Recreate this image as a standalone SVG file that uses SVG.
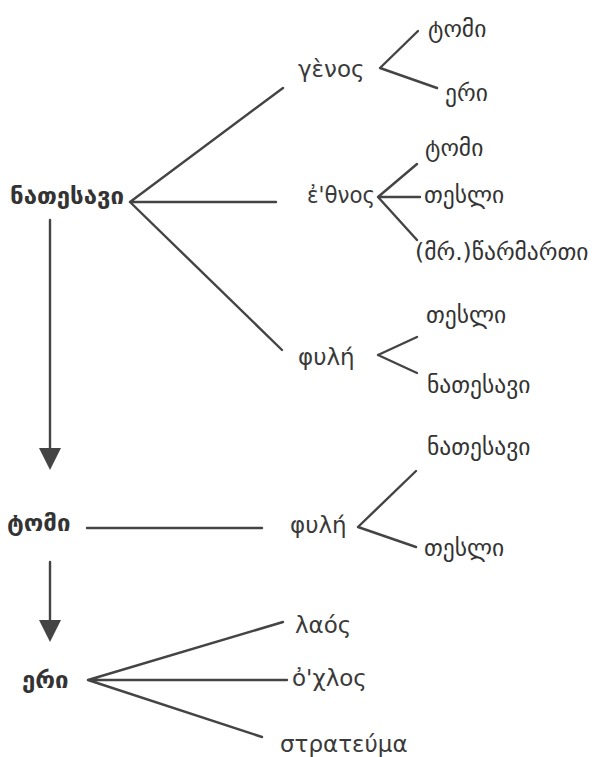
<svg xmlns="http://www.w3.org/2000/svg" width="603" height="757" viewBox="0 0 603 757">
<style>
.ka{font-family:"DejaVu Sans","Noto Sans",sans-serif;font-size:23.5px;fill:#333}
.kb{font-family:"DejaVu Sans","Noto Sans",sans-serif;font-size:24px;font-weight:bold;fill:#333}
.gr{font-family:"DejaVu Sans","Noto Sans",sans-serif;font-size:23px;fill:#3a3a3a}
.ln{stroke:#444;stroke-width:2.4;fill:none;stroke-linecap:round}
</style>
<defs>
<marker id="ah" markerUnits="userSpaceOnUse" markerWidth="22" markerHeight="22" refX="12" refY="11" orient="auto">
<path d="M0,0 L22,11 L0,22 z" fill="#444"/>
</marker>
</defs>
<rect width="603" height="757" fill="#fff"/>
<g id="connectors">
<path class="ln" d="M130,202 L283,88 M130,202 L276,202 M130,202 L282,350"/>
<path class="ln" d="M380,68 L418,31 M380,68 L437,88"/>
<path class="ln" d="M378,197 L417,164 M378,197 L420,197 M378,197 L417,240"/>
<path class="ln" d="M378,355 L417,337 M378,355 L417,373"/>
<path class="ln" d="M87,528 L262,528"/>
<path class="ln" d="M358,527 L416,471 M358,527 L416,547"/>
<path class="ln" d="M88,680 L283,622 M88,680 L287,680 M88,680 L262,737"/>
<line class="ln" x1="50" y1="220" x2="50" y2="460" marker-end="url(#ah)"/>
<line class="ln" x1="50" y1="562" x2="50" y2="632" marker-end="url(#ah)"/>
</g>
<g id="n-natesavi"><text class="kb" x="10" y="204">ნათესავი</text></g>
<g id="n-tomi"><text class="kb" x="7" y="531">ტომი</text></g>
<g id="n-eri"><text class="kb" x="22" y="688">ერი</text></g>
<g id="n-genos"><text class="gr" x="298" y="77">γὲνος</text></g>
<g id="n-genos-tomi"><text class="ka" x="428" y="37">ტომი</text></g>
<g id="n-genos-eri"><text class="ka" x="445" y="101">ერი</text></g>
<g id="n-ethnos"><text class="gr" x="307" y="203" textLength="68" lengthAdjust="spacingAndGlyphs">ἐ'θνος</text></g>
<g id="n-ethnos-tomi"><text class="ka" x="425" y="156">ტომი</text></g>
<g id="n-ethnos-tesli"><text class="ka" x="424" y="203">თესლი</text></g>
<g id="n-ethnos-tsarmarti"><text class="ka" x="415" y="260">(მრ.)წარმართი</text></g>
<g id="n-phyle1"><text class="gr" x="298" y="365">φυλή</text></g>
<g id="n-phyle1-tesli"><text class="ka" x="426" y="323">თესლი</text></g>
<g id="n-phyle1-natesavi"><text class="ka" x="427" y="393">ნათესავი</text></g>
<g id="n-phyle2"><text class="gr" x="290" y="533">φυλή</text></g>
<g id="n-phyle2-natesavi"><text class="ka" x="427" y="455">ნათესავი</text></g>
<g id="n-phyle2-tesli"><text class="ka" x="424" y="556">თესლი</text></g>
<g id="n-laos"><text class="gr" x="295" y="633">λαός</text></g>
<g id="n-okhlos"><text class="gr" x="292" y="686">ὀ'χλος</text></g>
<g id="n-strateuma"><text class="gr" x="280" y="752">στρατεύμα</text></g>
</svg>
